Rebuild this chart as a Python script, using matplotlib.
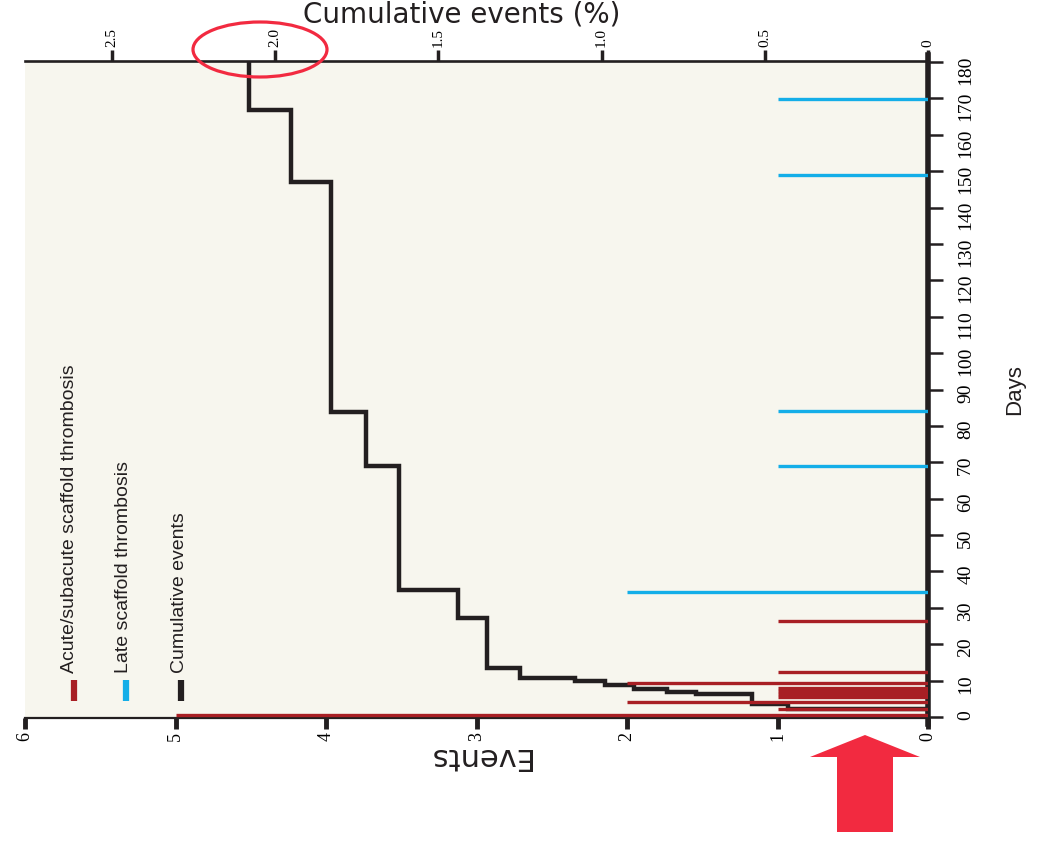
import numpy as np
import matplotlib
matplotlib.use("Agg")
import matplotlib.pyplot as plt
from matplotlib.patches import Ellipse, FancyArrow

# the chart is drawn turned by 90 degrees: days run up the right side,
# events (bottom) and cumulative events in % (top) run right to left
acute_days = [0.4, 2.2, 4.1, 5.35, 6.25, 7.15, 8.05, 9.3, 12.3, 26.4]
acute_events = [5, 1, 2, 1, 1, 1, 1, 2, 1, 1]

late_days = [34.2, 69.0, 84.1, 148.9, 169.8]
late_events = [2, 1, 1, 1, 1]

cum_days = [0, 2.2, 3.6, 6.2, 6.8, 7.7, 8.9, 9.9, 10.7, 13.5, 27.2, 34.9, 69.0, 83.8, 147.0, 166.8, 180]
cum_pct = [0, 0.43, 0.54, 0.71, 0.80, 0.90, 0.99, 1.08, 1.25, 1.35, 1.44, 1.62, 1.72, 1.83, 1.95, 2.08, 2.08]

event_ticks = [0, 1, 2, 3, 4, 5, 6]
pct_ticks = [0, 0.5, 1.0, 1.5, 2.0, 2.5]
pct_labels = ["0", "0.5", "1.0", "1.5", "2.0", "2.5"]
day_ticks = list(range(0, 181, 10))

pct_per_event = 0.461

legend_labels = ["Acute/subacute scaffold thrombosis", "Late scaffold thrombosis", "Cumulative events"]

RED = "#a81f24"
BLUE = "#14aee8"
BLACK = "#231f20"
BG = "#f7f6ee"
MARK = "#f22a40"

SERIF = ["Liberation Serif", "DejaVu Serif"]
SANS = ["Liberation Sans", "DejaVu Sans"]
WIDE = ["DejaVu Sans"]

plt.rcParams["font.family"] = SERIF

W, H = 1055, 841
fig = plt.figure(figsize=(W / 100, H / 100), dpi=100)
ax = fig.add_axes([25 / W, (H - 718) / H, 903 / W, 657 / H])
ax.set_facecolor(BG)

ax.set_xlim(6, 0)
ax.set_ylim(-0.3, 180.3)

# cumulative curve, converted to the events scale so it sits under the event lines
ax.step(np.array(cum_pct) / pct_per_event, cum_days, where="pre",
        color=BLACK, lw=3.2, zorder=2, solid_joinstyle="miter")

ax.hlines(acute_days, 0, acute_events, color=RED, lw=2.4, zorder=3)
ax.hlines(late_days, 0, late_events, color=BLUE, lw=2.4, zorder=3)

ax.set_xticks(event_ticks)
ax.set_yticks(day_ticks)
ax.yaxis.tick_right()
ax.tick_params(axis="x", direction="out", length=8, width=3.5, color=BLACK,
               labelrotation=90, labelsize=13, pad=2)
ax.tick_params(axis="y", direction="out", length=11, width=1.8, color=BLACK,
               labelrotation=90, labelsize=14, pad=10, left=False, right=True)

for side in ["left", "top"]:
    ax.spines[side].set_visible(False)
ax.spines["right"].set_linewidth(4)
ax.spines["right"].set_color(BLACK)
ax.spines["right"].set_bounds(-2, 182)
ax.spines["bottom"].set_linewidth(1.6)
ax.spines["bottom"].set_color(BLACK)

ax.set_xlabel("Events", rotation=180, fontsize=22, family=WIDE, color=BLACK)
ax.xaxis.set_label_coords((478 - 25) / 903, (718 - 757) / 657)
ax.xaxis.label.set_va("center")

ax.yaxis.set_label_position("right")
ax.set_ylabel("Days", rotation=90, fontsize=16, family=SANS, color=BLACK)
ax.yaxis.set_label_coords((1015 - 25) / 903, (718 - 390) / 657)
ax.yaxis.label.set_va("center")
ax.yaxis.label.set_ha("center")

# percent scale on top
ax2 = ax.twiny()
ax2.set_xlim(6 * pct_per_event, 0)
ax2.set_xticks(pct_ticks)
ax2.set_xticklabels(pct_labels)
ax2.tick_params(axis="x", direction="out", length=8, width=2.5, color=BLACK,
                labelrotation=90, labelsize=11, pad=2)
for side in ["left", "right", "bottom"]:
    ax2.spines[side].set_visible(False)
ax2.spines["top"].set_linewidth(1.9)
ax2.spines["top"].set_color(BLACK)
ax2.set_xlabel("Cumulative events (%)", fontsize=20, family=WIDE, color=BLACK)
ax2.xaxis.set_label_coords((462 - 25) / 903, (718 - 22) / 657)
ax2.xaxis.label.set_va("baseline")

# legend, standing upright like the rest of the turned chart
for lab, col, tx, bx in zip(legend_labels, [RED, BLUE, BLACK], [70, 124, 180], [74, 126, 181]):
    ax.text((tx - 25) / 903, (718 - 673) / 657, lab, transform=ax.transAxes,
            rotation=90, ha="center", va="bottom", fontsize=14, family=SANS, color=BLACK)
    ax.plot([(bx - 25) / 903] * 2, [(718 - 701) / 657, (718 - 680) / 657],
            transform=ax.transAxes, color=col, lw=4.5, solid_capstyle="butt")

# highlight marks
fig.add_artist(Ellipse((260 / W, 1 - 49.5 / H), 134 / W, 55 / H, transform=fig.transFigure,
                       fill=False, ec=MARK, lw=2.3))
fig.add_artist(FancyArrow(8.65, (H - 832) / 100, 0, (832 - 735) / 100, width=0.56,
                          head_width=1.10, head_length=0.22, length_includes_head=True,
                          transform=fig.dpi_scale_trans, color=MARK, lw=0))

fig.savefig("out.png", dpi=100)
